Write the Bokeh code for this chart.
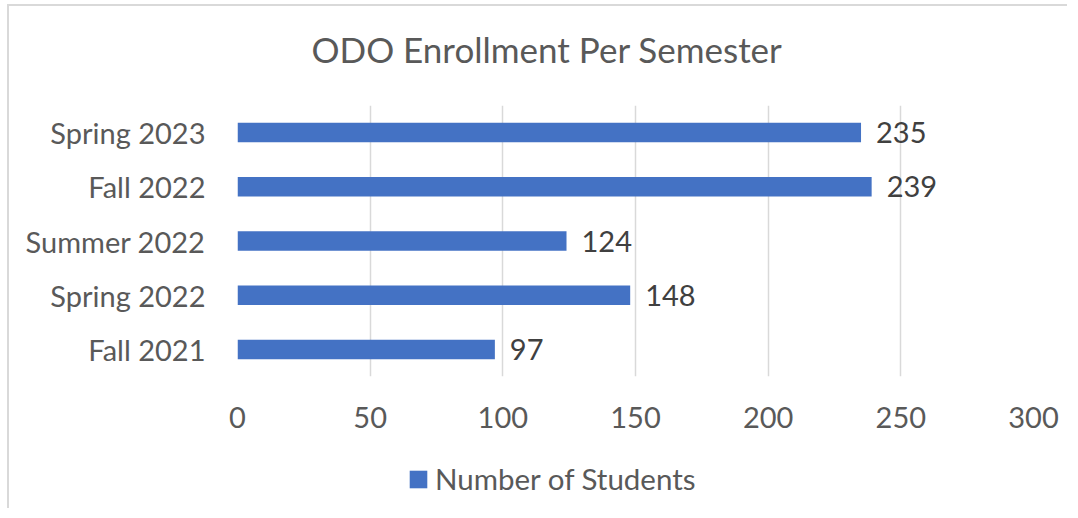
from bokeh.plotting import figure
from bokeh.layouts import column
from bokeh.models import Range1d, FactorRange, ColumnDataSource, Legend, LegendItem, Title
from bokeh.core.properties import value
from bokeh.embed import file_html
from bokeh.resources import INLINE

categories = ["Fall 2021", "Spring 2022", "Summer 2022", "Fall 2022", "Spring 2023"]
students = [97, 148, 124, 239, 235]
x_ticks = [0, 50, 100, 150, 200, 250, 300]
title_text = "ODO Enrollment Per Semester"
series_name = "Number of Students"

FONT = "Lato"
BAR = "#4472C4"
GRAY = "#595959"
FS = "29px"
BORDER = "2px solid #d9d9d9"

src = ColumnDataSource(dict(cat=categories, val=students, lab=[str(v) for v in students]))

p = figure(width=1060, height=440, output_backend="svg", toolbar_location=None,
           x_range=Range1d(0, 300), y_range=FactorRange(*categories),
           min_border_left=228, min_border_right=36, min_border_top=99, min_border_bottom=70,
           title=None)
p.outline_line_color = None
p.background_fill_color = "white"
p.border_fill_color = "white"
p.styles = {"border-top": BORDER, "border-left": BORDER, "margin-left": "7px", "margin-top": "4px"}

r = p.hbar(y="cat", right="val", height=0.36, left=0, source=src, fill_color=BAR, line_color=None)

p.text(x="val", y="cat", text="lab", source=src, x_offset=15, text_baseline="middle",
       text_align="left", text_color="#404040", text_font=value(FONT), text_font_size=FS)

p.xaxis.ticker = x_ticks
p.xaxis.axis_line_color = None
p.xaxis.major_tick_line_color = None
p.xaxis.minor_tick_line_color = None
p.xaxis.major_tick_out = 0
p.xaxis.major_label_standoff = 30
p.xaxis.major_label_text_font = FONT
p.xaxis.major_label_text_font_size = FS
p.xaxis.major_label_text_color = GRAY

p.yaxis.axis_line_color = None
p.yaxis.major_tick_line_color = None
p.yaxis.major_tick_out = 0
p.yaxis.major_label_standoff = 32
p.yaxis.major_label_text_font = FONT
p.yaxis.major_label_text_font_size = FS
p.yaxis.major_label_text_color = GRAY

p.xgrid.grid_line_color = "#d9d9d9"
p.xgrid.grid_line_width = 1.5
p.ygrid.grid_line_color = None

spacer = Title(text=" ", text_font_size="1px", standoff=28)
p.add_layout(spacer, "above")
title = Title(text=title_text, align="left", offset=74, standoff=10,
              text_font=FONT, text_font_size="35px", text_color=GRAY,
              text_font_style="normal")
p.add_layout(title, "above")

# legend strip: its renderer is hidden, only the legend entry shows
q = figure(width=1060, height=64, output_backend="svg", toolbar_location=None,
           x_range=Range1d(1000, 2000), y_range=FactorRange(*categories),
           x_axis_type=None, y_axis_type=None,
           min_border_left=0, min_border_right=0, min_border_top=0, min_border_bottom=0)
q.outline_line_color = None
q.grid.grid_line_color = None
q.styles = {"border-left": BORDER, "margin-left": "7px"}
r2 = q.hbar(y="cat", right="val", left=0, height=0.36, source=src, fill_color=BAR, line_color=None)
r2.visible = False
legend = Legend(items=[LegendItem(label=series_name, renderers=[r2])],
                location=(170, 12), orientation="horizontal",
                glyph_width=22, glyph_height=22, label_standoff=6,
                label_text_font=FONT, label_text_font_size="29.5px", label_text_color=GRAY,
                border_line_color=None, background_fill_alpha=0, padding=0, margin=0,
                inactive_fill_alpha=0)
q.add_layout(legend)

layout = column(p, q, spacing=0)
open("out.html", "w").write(file_html(layout, INLINE))
